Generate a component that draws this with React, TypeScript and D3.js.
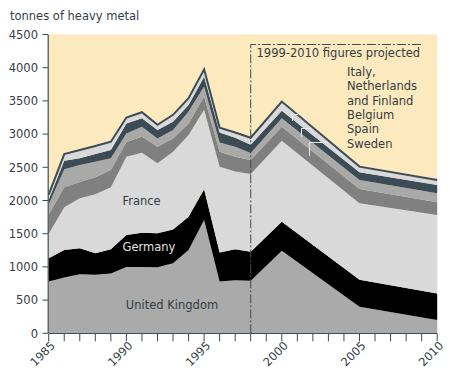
import React from 'react';
import * as d3 from 'd3';

const years = [1985, 1986, 1987, 1988, 1989, 1990, 1991, 1992, 1993, 1994, 1995, 1996, 1997, 1998, 2000, 2005, 2010];
const unitedKingdom = [780, 840, 890, 880, 900, 1000, 1000, 995, 1055, 1255, 1705, 780, 800, 790, 1245, 400, 200];
const germany = [350, 415, 390, 325, 365, 480, 515, 510, 510, 500, 465, 435, 465, 440, 435, 405, 400];
const france = [370, 645, 755, 890, 935, 1180, 1205, 1055, 1170, 1230, 1195, 1295, 1170, 1170, 1220, 1155, 1180];
const sweden = [290, 300, 245, 255, 260, 220, 240, 250, 200, 175, 200, 225, 225, 210, 210, 215, 195];
const spain = [150, 270, 255, 235, 175, 130, 150, 125, 125, 180, 150, 140, 150, 105, 130, 135, 135];
const belgium = [70, 130, 100, 115, 125, 150, 130, 125, 125, 100, 150, 150, 135, 125, 110, 115, 125];
const italyNlFi = [80, 100, 125, 120, 125, 90, 90, 80, 105, 100, 110, 70, 80, 105, 140, 85, 75];

const seriesKeys = ['uk', 'germany', 'france', 'sweden', 'spain', 'belgium', 'italy'];
const seriesColors: Record<string, string> = {
  uk: '#aaaaaa',
  germany: '#000000',
  france: '#d9d9d9',
  sweden: '#808080',
  spain: '#a9a9a9',
  belgium: '#3b4c56',
  italy: '#d9d9d9',
};
const yTicks = [0, 500, 1000, 1500, 2000, 2500, 3000, 3500, 4000, 4500];
const xLabelYears = [1985, 1990, 1995, 2000, 2005, 2010];
const projectedStart = 1998;
const legendLines = ['Italy,', 'Netherlands', 'and Finland', 'Belgium', 'Spain', 'Sweden'];

const W = 450;
const H = 380;
const FONT = '"DejaVu Sans", "Open Sans", sans-serif';
const FS = 11.5;
const TEXT = '#333d44';
const SLATE = '#3b4c56';

export default function App() {
  const x = d3.scaleLinear().domain([1985, 2010]).range([48.7, 437.2]);
  const y = d3.scaleLinear().domain([0, 4500]).range([333.3, 34.5]);

  const rows = years.map((yr, i) => ({
    year: yr,
    uk: unitedKingdom[i],
    germany: germany[i],
    france: france[i],
    sweden: sweden[i],
    spain: spain[i],
    belgium: belgium[i],
    italy: italyNlFi[i],
  }));
  const stacked = d3.stack<any>().keys(seriesKeys)(rows);
  const area = d3
    .area<any>()
    .x((d) => x(d.data.year))
    .y0((d) => y(d[0]))
    .y1((d) => y(d[1]));
  const topLine = d3
    .line<any>()
    .x((d) => x(d.data.year))
    .y((d) => y(d[1]));

  const allYears = d3.range(1985, 2011);
  const x0 = x(1985);
  const x1 = x(2010);
  const xp = x(projectedStart);

  return (
    <svg width={W} height={H} style={{ position: 'absolute', left: 0, top: 0, display: 'block', background: '#fff' }} fontFamily={FONT}>
      <text x={10} y={20} fontSize={FS} fill={TEXT}>tonnes of heavy metal</text>
      <rect x={x0} y={y(4500)} width={x1 - x0} height={y(0) - y(4500)} fill="#fde9be" />
      {stacked.map((s) => (
        <path key={s.key} d={area(s) || ''} fill={seriesColors[s.key]} />
      ))}
      <path d={topLine(stacked[stacked.length - 1]) || ''} fill="none" stroke={SLATE} strokeWidth={2} strokeLinejoin="miter" />

      {/* leader lines */}
      <g stroke="#e6e6e6" strokeWidth={1} fill="none">
        <polyline points={`298,114.5 292.5,114.5 292.5,121`} />
        <polyline points={`312,128.5 301.5,128.5 301.5,137`} />
        <polyline points={`328,142.5 309.5,142.5 309.5,156`} />
      </g>

      {/* projected marker */}
      <polyline
        points={`${xp},${y(0)} ${xp},44.5 423,44.5`}
        fill="none"
        stroke={SLATE}
        strokeWidth={1}
        strokeDasharray="9,2,2,2"
      />
      <text x={256.5} y={57} fontSize={FS} fill={TEXT}>1999-2010 figures projected</text>
      {legendLines.map((t, i) => (
        <text key={t} x={347} y={76 + i * 14.3} fontSize={FS} fill={TEXT}>{t}</text>
      ))}

      {/* series labels */}
      <text x={141.5} y={205} fontSize={FS} fill={TEXT} textAnchor="middle">France</text>
      <text x={149} y={251} fontSize={FS} fill="#e0e0e0" textAnchor="middle">Germany</text>
      <text x={172} y={308.5} fontSize={FS} fill={TEXT} textAnchor="middle">United Kingdom</text>

      {/* y axis */}
      <line x1={48.2} x2={48.2} y1={y(4500)} y2={y(0)} stroke={SLATE} strokeWidth={1.2} />
      {yTicks.map((t) => (
        <g key={t}>
          <line x1={42.5} x2={48} y1={y(t)} y2={y(t)} stroke={SLATE} strokeWidth={1} />
          <text x={38} y={y(t) + 4.2} fontSize={FS} fill={TEXT} textAnchor="end">{t}</text>
        </g>
      ))}

      {/* x axis */}
      <line x1={x0} x2={x1} y1={y(0) + 0.2} y2={y(0) + 0.2} stroke={SLATE} strokeWidth={1.2} />
      {allYears.map((yr) => (
        <line key={yr} x1={x(yr)} x2={x(yr)} y1={y(0)} y2={y(0) + 8} stroke={SLATE} strokeWidth={1} />
      ))}
      {xLabelYears.map((yr) => (
        <text
          key={yr}
          transform={`translate(${x(yr) + 7},${y(0) + 13}) rotate(-45)`}
          fontSize={FS}
          fill={TEXT}
          textAnchor="end"
        >
          {yr}
        </text>
      ))}
    </svg>
  );
}
